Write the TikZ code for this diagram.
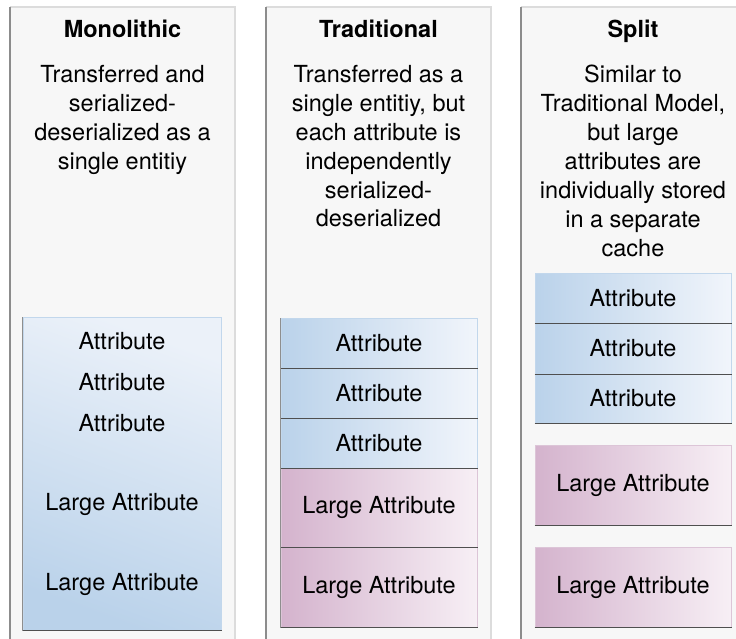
\documentclass[tikz,border=0pt]{standalone}
\usepackage{fontspec}
\setmainfont{TeX Gyre Heros}
\definecolor{panelfill}{HTML}{F7F7F7}
\definecolor{panelleft}{HTML}{8C8C8C}
\definecolor{paneledge}{HTML}{DCDCDC}
\definecolor{blueD}{HTML}{BAD2EA}
\definecolor{blueL}{HTML}{F1F5FB}
\definecolor{blueM}{HTML}{EBF1F9}
\definecolor{blueB}{HTML}{C2D7EC}
\definecolor{pinkD}{HTML}{D4B3CD}
\definecolor{pinkL}{HTML}{F7EFF5}
\definecolor{pinkB}{HTML}{DCC5D7}
\definecolor{edgeD}{HTML}{4F4F4F}
\definecolor{edgeL}{HTML}{8E8E8E}
\tikzset{
  txt/.style={font=\fontsize{23.5}{28.9}\selectfont, text=black},
  ttl/.style={font=\bfseries\fontsize{23.5}{28.9}\selectfont, text=black, anchor=base, inner sep=0pt},
  desc/.style={txt, align=center, anchor=north, inner sep=0pt},
  boxbase/.style={txt, inner sep=0pt, line width=1pt, minimum width=196pt},
  attrbox/.style={boxbase, draw=blueB, left color=blueD, right color=blueL},
  largebox/.style={boxbase, draw=pinkB, left color=pinkD, right color=pinkL},
  darkedge/.style={edgeD, line width=1.4pt},
  grayedge/.style={edgeL, line width=0.8pt},
}
\begin{document}
\begin{tikzpicture}[x=1pt,y=-1pt]
\useasboundingbox (0,0) rectangle (736,639);
\fill[white] (0,0) rectangle (736,639);
% panels
\fill[panelfill] (10,7) rectangle (235,639);
\draw[paneledge, line width=2pt] (10,7) -- (235,7) -- (235,639);
\draw[panelleft, line width=1.5pt] (10,7) -- (10,639);
\fill[panelfill] (266,7) rectangle (491,639);
\draw[paneledge, line width=2pt] (266,7) -- (491,7) -- (491,639);
\draw[panelleft, line width=1.5pt] (266,7) -- (266,639);
\fill[panelfill] (521,7) rectangle (736,639);
\draw[paneledge, line width=2pt] (521,7) -- (736,7);
\draw[panelleft, line width=1.5pt] (521,7) -- (521,639);
% titles
\node[ttl] (t1) at (122.5,38) {Monolithic};
\node[ttl] (t2) at (378.5,38) {Traditional};
\node[ttl] (t3) at (633,38) {Split};
% descriptions
\node[desc] (d1) at (122.5,65) {Transferred and\\serialized-\\deserialized as a\\single entitiy};
\node[desc] (d2) at (378.5,65) {Transferred as a\\single entitiy, but\\each attribute is\\independently\\serialized-\\deserialized};
\node[desc] (d3) at (633,65) {Similar to\\Traditional Model,\\but large\\attributes are\\individually stored\\in a separate\\cache};
% monolithic
\node[boxbase, draw=blueB, bottom color=blueD, top color=blueM, shading angle=-20, minimum width=198pt, minimum height=313pt] (m) at (122,473.5) {};
\draw[darkedge] (m.south west) -- (m.south east);
\draw[grayedge] (m.south west) -- (m.north west);
\node[txt] (ma1) at (122,341) {Attribute};
\node[txt] (ma2) at (122,382) {Attribute};
\node[txt] (ma3) at (122,423) {Attribute};
\node[txt] (ml1) at (122,504) {Large Attribute};
\node[txt] (ml2) at (122,584) {Large Attribute};
% traditional
\node[attrbox, minimum height=50pt] (ta1) at (379,343) {Attribute};
\node[attrbox, minimum height=50pt] (ta2) at (379,393) {Attribute};
\node[attrbox, minimum height=50pt] (ta3) at (379,443) {Attribute};
\node[largebox, minimum height=79pt] (tl1) at (379,507.5) {Large Attribute};
\node[largebox, minimum height=80pt] (tl2) at (379,587) {Large Attribute};
\foreach \n in {ta1,ta2,ta3,tl1,tl2}{
  \draw[grayedge] (\n.south west) -- (\n.north west);
  \draw[darkedge] (\n.south west) -- (\n.south east);
}
% split
\node[attrbox, minimum height=50pt] (sa1) at (633,298) {Attribute};
\node[attrbox, minimum height=51pt] (sa2) at (633,348.5) {Attribute};
\node[attrbox, minimum height=49pt] (sa3) at (633,398.5) {Attribute};
\node[largebox, minimum height=80pt] (sl1) at (633,485) {Large Attribute};
\node[largebox, minimum height=80pt] (sl2) at (633,587) {Large Attribute};
\foreach \n in {sa1,sa2,sa3,sl1,sl2}{
  \draw[darkedge] (\n.south west) -- (\n.south east);
}
\end{tikzpicture}
\end{document}
